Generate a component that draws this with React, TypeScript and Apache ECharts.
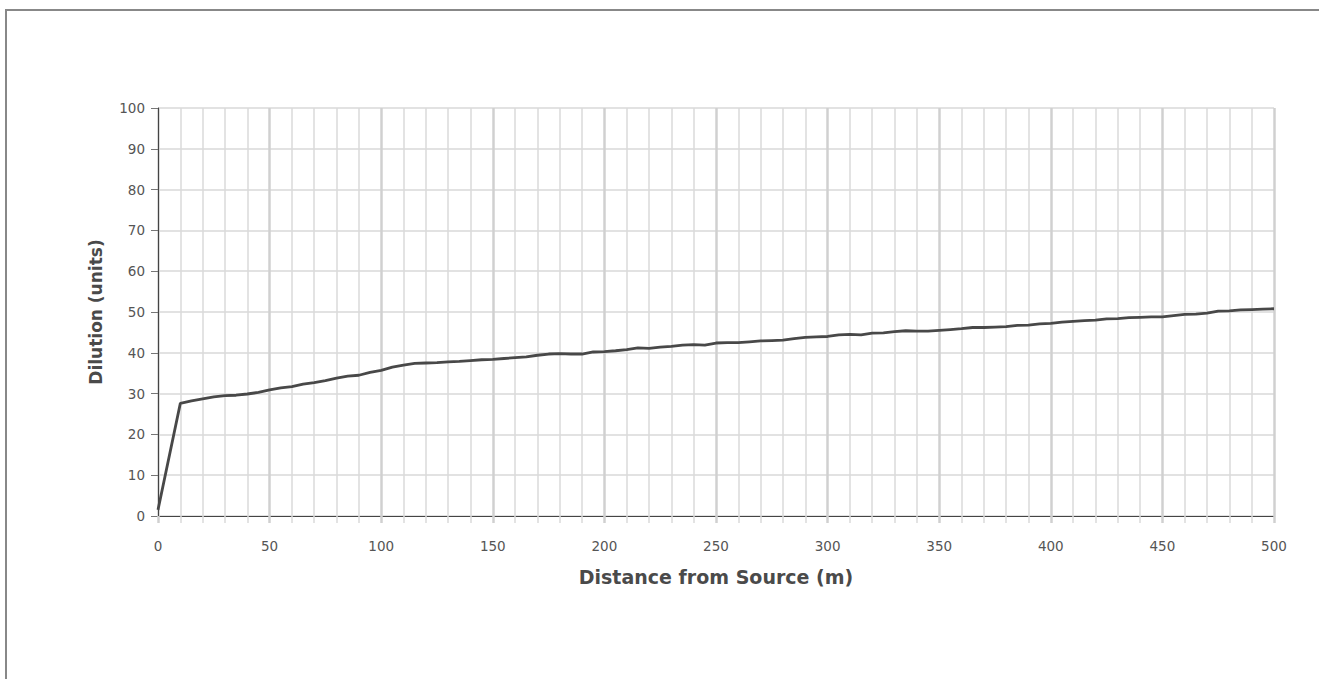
import React, { useEffect, useRef } from "react";
import * as echarts from "echarts";

const distances = [0, 10, 15, 20, 25, 30, 35, 40, 45, 50, 55, 60, 65, 70, 75, 80, 85, 90, 95, 100,
  105, 110, 115, 120, 125, 130, 135, 140, 145, 150, 155, 160, 165, 170, 175, 180, 185, 190, 195, 200,
  205, 210, 215, 220, 225, 230, 235, 240, 245, 250, 255, 260, 265, 270, 275, 280, 285, 290, 295, 300,
  305, 310, 315, 320, 325, 330, 335, 340, 345, 350, 355, 360, 365, 370, 375, 380, 385, 390, 395, 400,
  405, 410, 415, 420, 425, 430, 435, 440, 445, 450, 455, 460, 465, 470, 475, 480, 485, 490, 495, 500];

const dilution = [1.5, 27.6, 28.2, 28.7, 29.2, 29.5, 29.6, 29.9, 30.3, 30.9, 31.4, 31.7, 32.3, 32.7, 33.2, 33.8, 34.3, 34.5, 35.2, 35.7,
  36.5, 37.0, 37.4, 37.5, 37.6, 37.8, 37.9, 38.1, 38.3, 38.4, 38.6, 38.8, 39.0, 39.4, 39.7, 39.8, 39.7, 39.7, 40.2, 40.3,
  40.5, 40.8, 41.2, 41.1, 41.4, 41.6, 41.9, 42.0, 41.9, 42.4, 42.5, 42.5, 42.7, 42.9, 43.0, 43.1, 43.5, 43.8, 43.9, 44.0,
  44.4, 44.5, 44.4, 44.8, 44.9, 45.2, 45.4, 45.3, 45.3, 45.5, 45.7, 45.9, 46.2, 46.2, 46.3, 46.4, 46.7, 46.8, 47.1, 47.2,
  47.5, 47.7, 47.9, 48.0, 48.3, 48.4, 48.6, 48.7, 48.8, 48.8, 49.1, 49.4, 49.5, 49.7, 50.2, 50.3, 50.5, 50.6, 50.7, 50.8];

const xTitle = "Distance from Source (m)";
const yTitle = "Dilution (units)";

export default function App() {
  const ref = useRef<HTMLDivElement>(null);
  useEffect(() => {
    if (!ref.current) return;
    const chart = echarts.init(ref.current, null, { renderer: "svg" });
    const font = "'DejaVu Sans', 'Open Sans', sans-serif";
    chart.setOption({
      animation: false,
      backgroundColor: "#fff",
      textStyle: { fontFamily: font },
      graphic: [
        {
          type: "rect",
          shape: { x: 6, y: 10, width: 1340, height: 720 },
          style: { fill: "none", stroke: "#888", lineWidth: 2 },
          silent: true,
        },
      ],
      grid: { left: 158, right: 45, top: 108, bottom: 163, containLabel: false },
      xAxis: {
        type: "value",
        min: 0,
        max: 500,
        interval: 50,
        name: xTitle,
        nameLocation: "middle",
        nameGap: 51,
        nameTextStyle: { fontFamily: font, fontSize: 19, fontWeight: "bold", color: "#4a4a4a" },
        axisLine: { show: true, onZero: false, lineStyle: { color: "#444", width: 1 } },
        axisTick: { show: true, length: 7, lineStyle: { color: "#d0d0d0", width: 2.5 } },
        minorTick: { show: true, splitNumber: 5, length: 7, lineStyle: { color: "#dadada", width: 1.5 } },
        axisLabel: { fontFamily: font, fontSize: 13.5, color: "#555", margin: 23 },
        splitLine: { show: true, lineStyle: { color: "#d0d0d0", width: 2.5 } },
        minorSplitLine: { show: true, lineStyle: { color: "#dadada", width: 1.5 } },
      },
      yAxis: {
        type: "value",
        min: 0,
        max: 100,
        interval: 10,
        name: yTitle,
        nameLocation: "middle",
        nameGap: 54,
        nameRotate: 90,
        nameTextStyle: { fontFamily: font, fontSize: 17, fontWeight: "bold", color: "#4a4a4a" },
        axisLine: { show: true, lineStyle: { color: "#444", width: 1 } },
        axisTick: { show: true, length: 7, lineStyle: { color: "#777", width: 1 } },
        axisLabel: { fontFamily: font, fontSize: 13.5, color: "#555", margin: 13 },
        splitLine: { show: true, lineStyle: { color: "#d8d8d8", width: 1.5 } },
      },
      series: [
        {
          type: "line",
          data: distances.map((d, i) => [d, dilution[i]]),
          showSymbol: false,
          symbol: "none",
          lineStyle: { color: "#484848", width: 2.8 },
          z: 5,
        },
      ],
    });
    return () => chart.dispose();
  }, []);
  return (
    <div
      ref={ref}
      style={{ position: "absolute", left: 0, top: 0, width: 1319, height: 679 }}
    />
  );
}
